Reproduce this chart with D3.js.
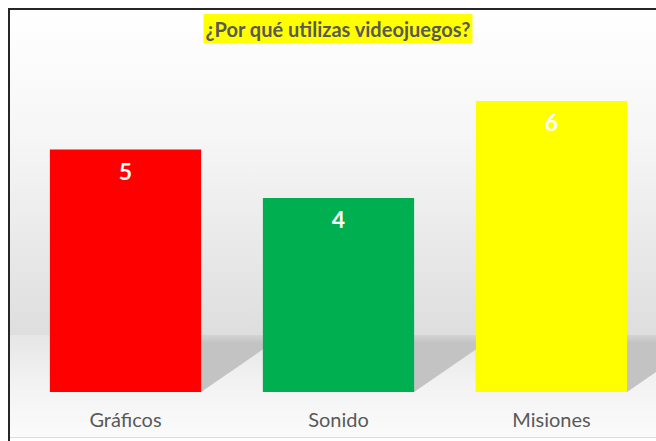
<!DOCTYPE html>
<html>
<head>
<meta charset="utf-8">
<script src="https://cdn.jsdelivr.net/npm/d3@7"></script>
<style>
  body { margin: 0; background: #ffffff; }
  text { font-family: Lato, "Open Sans", sans-serif; }
</style>
</head>
<body>
<div id="chart"></div>
<script>
// data
var categories = ["Gráficos", "Sonido", "Misiones"];
var values = [5, 4, 6];
var barColors = ["#ff0000", "#00b050", "#ffff00"];
var chartTitle = "¿Por qué utilizas videojuegos?";

var W = 656, H = 441;
var floorY = 335;   // where wall meets floor
var baseY = 392;    // bars bottom

var svg = d3.select("#chart").append("svg")
  .attr("width", W)
  .attr("height", H);

var defs = svg.append("defs");

var wallGrad = defs.append("linearGradient")
  .attr("id", "wall").attr("gradientUnits", "userSpaceOnUse")
  .attr("x1", 0).attr("y1", 10).attr("x2", 0).attr("y2", floorY);
wallGrad.append("stop").attr("offset", 0).attr("stop-color", "#ffffff");
wallGrad.append("stop").attr("offset", 0.4).attr("stop-color", "#f6f6f6");
wallGrad.append("stop").attr("offset", 1).attr("stop-color", "#dedede");

var floorGrad = defs.append("linearGradient")
  .attr("id", "floor").attr("gradientUnits", "userSpaceOnUse")
  .attr("x1", 0).attr("y1", floorY).attr("x2", 0).attr("y2", 437);
floorGrad.append("stop").attr("offset", 0).attr("stop-color", "#e6e6e6");
floorGrad.append("stop").attr("offset", 0.5).attr("stop-color", "#f3f3f3");
floorGrad.append("stop").attr("offset", 1).attr("stop-color", "#fbfbfb");

var shadowGrad = defs.append("linearGradient")
  .attr("id", "shadow").attr("gradientUnits", "userSpaceOnUse")
  .attr("x1", 0).attr("y1", floorY - 4).attr("x2", 0).attr("y2", floorY + 8);
shadowGrad.append("stop").attr("offset", 0).attr("stop-color", "#dcdcdc");
shadowGrad.append("stop").attr("offset", 1).attr("stop-color", "#c3c3c3");

// background: wall + floor
svg.append("rect")
  .attr("x", 10).attr("y", 10)
  .attr("width", W - 10).attr("height", floorY - 10)
  .attr("fill", "url(#wall)");
svg.append("rect")
  .attr("x", 10).attr("y", floorY)
  .attr("width", W - 10).attr("height", 437 - floorY)
  .attr("fill", "url(#floor)");
svg.append("line")
  .attr("x1", 10).attr("x2", W)
  .attr("y1", 437.5).attr("y2", 437.5)
  .attr("stroke", "#dddddd");

// scales
var x = d3.scaleBand()
  .domain(categories)
  .range([19, 658])
  .paddingInner(0.29)
  .paddingOuter(0.145);

var y = d3.scaleLinear()
  .domain([0, 6])
  .range([baseY, 101]);

// shadows on the floor
var slant = 1.45;
svg.append("g")
  .selectAll("path")
  .data(values)
  .enter().append("path")
    .attr("d", function(d, i) {
      var x0 = x(categories[i]), x1 = x0 + x.bandwidth();
      var y0 = y(0);
      return "M" + x0 + "," + floorY +
        "L" + (x1 + (y0 - floorY) * slant) + "," + floorY +
        "L" + x1 + "," + y0 +
        "L" + x0 + "," + y0 + "Z";
    })
    .attr("fill", "url(#shadow)");

// bars
svg.append("g")
  .selectAll("rect")
  .data(values)
  .enter().append("rect")
    .attr("x", function(d, i) { return x(categories[i]); })
    .attr("y", function(d) { return y(d); })
    .attr("width", x.bandwidth())
    .attr("height", function(d) { return y(0) - y(d); })
    .attr("fill", function(d, i) { return barColors[i]; });

// value labels
svg.append("g")
  .selectAll("text")
  .data(values)
  .enter().append("text")
    .attr("x", function(d, i) { return x(categories[i]) + x.bandwidth() / 2; })
    .attr("y", function(d) { return y(d) + 30; })
    .attr("text-anchor", "middle")
    .style("font-size", "23px")
    .style("font-weight", "bold")
    .style("fill", "#ffffff")
    .text(function(d) { return d; });

// category axis
var xAxis = svg.append("g")
  .attr("transform", "translate(0," + baseY + ")")
  .call(d3.axisBottom(x).tickSize(0).tickPadding(21));
xAxis.select(".domain").remove();
xAxis.selectAll("text")
  .style("font-family", "Lato, 'Open Sans', sans-serif")
  .style("font-size", "20px")
  .style("fill", "#595959");

// title with yellow highlight
var titleG = svg.append("g");
var titleBox = titleG.append("rect").attr("fill", "#ffff00");
var title = titleG.append("text")
  .attr("x", 338)
  .attr("y", 37)
  .attr("text-anchor", "middle")
  .style("font-size", "20px")
  .style("font-weight", "bold")
  .style("fill", "#595959")
  .text(chartTitle);
var bb = title.node().getBBox();
titleBox
  .attr("x", bb.x - 2)
  .attr("y", 14)
  .attr("width", bb.width + 4)
  .attr("height", 29);

// frame
svg.append("path")
  .attr("d", "M9," + H + "L9,9L" + W + ",9")
  .attr("fill", "none")
  .attr("stroke", "#262626")
  .attr("stroke-width", 2);
</script>
</body>
</html>
